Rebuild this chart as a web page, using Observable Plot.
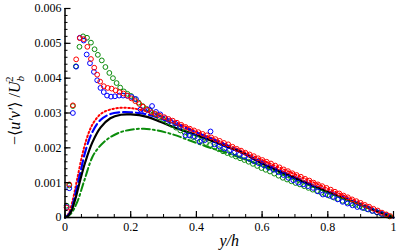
<!DOCTYPE html>
<html>
<head>
<meta charset="utf-8">
<script src="https://cdn.jsdelivr.net/npm/d3@7"></script>
<script src="https://cdn.jsdelivr.net/npm/@observablehq/plot@0.6"></script>
<style>
  html, body { margin: 0; padding: 0; background: #fff; }
  svg { display: block; }
</style>
</head>
<body>
<script>
// ---- tick labels ----
const xTicks = [0, 0.2, 0.4, 0.6, 0.8, 1];
const yTicks = [0, 0.001, 0.002, 0.003, 0.004, 0.005, 0.006];

// ---- symbol series (x = y/h, v = -<u'v'>/Ub^2) ----
const redX = [0.005,0.013,0.024,0.034,0.045,0.057,0.068,0.079,0.089,0.098,0.107,0.118,0.13,0.142,0.154,0.166,0.178,0.19,0.202,0.214,0.226,0.238,0.25,0.263,0.276,0.289,0.302,0.315,0.328,0.341,0.354,0.367,0.38,0.393,0.406,0.419,0.432,0.445,0.458,0.471,0.484,0.497,0.51,0.523,0.536,0.549,0.562,0.575,0.588,0.601,0.614,0.627,0.64,0.653,0.666,0.679,0.692,0.705,0.718,0.731,0.744,0.757,0.77,0.783,0.796,0.809,0.822,0.835,0.848,0.861,0.874,0.887,0.9,0.913,0.926,0.939,0.952,0.965,0.978,0.99];
const redV = [0.00028,0.00095,0.00322,0.00454,0.00515,0.00512,0.0049,0.00455,0.0043,0.0041,0.0039,0.00377,0.00372,0.0037,0.00365,0.0036,0.00356,0.0035,0.00342,0.00334,0.00326,0.00318,0.00309,0.00302,0.00297,0.00292,0.00288,0.00283,0.00278,0.00272,0.00266,0.0026,0.00255,0.0025,0.00245,0.0024,0.00236,0.0023,0.00225,0.0022,0.00214,0.0021,0.00203,0.00197,0.00192,0.00186,0.00181,0.00176,0.0017,0.00165,0.0016,0.00155,0.00149,0.00144,0.00138,0.00133,0.00127,0.00122,0.00117,0.00111,0.00106,0.001,0.00095,0.0009,0.00085,0.0008,0.00074,0.00069,0.00063,0.00058,0.00052,0.00047,0.00042,0.00036,0.00031,0.00025,0.0002,0.00014,0.00009,0.00004];

const blueX = [0.005,0.013,0.024,0.034,0.045,0.057,0.066,0.076,0.088,0.098,0.108,0.118,0.128,0.14,0.152,0.165,0.177,0.19,0.203,0.216,0.23,0.243,0.256,0.265,0.277,0.29,0.305,0.32,0.335,0.35,0.367,0.38,0.395,0.41,0.425,0.443,0.455,0.47,0.485,0.5,0.515,0.53,0.545,0.56,0.575,0.59,0.605,0.62,0.635,0.65,0.665,0.68,0.695,0.71,0.725,0.74,0.755,0.77,0.785,0.8,0.815,0.83,0.845,0.86,0.875,0.89,0.905,0.92,0.935,0.95,0.965,0.98];
const blueV = [0.0003,0.00084,0.003,0.00433,0.00516,0.00508,0.00468,0.00443,0.00418,0.00394,0.00372,0.0036,0.0035,0.00347,0.00348,0.0035,0.0035,0.00349,0.00346,0.0034,0.0031,0.00305,0.0031,0.0032,0.00303,0.00296,0.00285,0.00277,0.0027,0.0026,0.00236,0.00235,0.00232,0.00218,0.00222,0.00247,0.0021,0.00204,0.00198,0.00192,0.00186,0.0018,0.00175,0.00169,0.00162,0.00156,0.0015,0.00143,0.00137,0.0013,0.00122,0.00114,0.00107,0.001,0.00095,0.0009,0.00085,0.00075,0.00066,0.00064,0.00059,0.00052,0.00045,0.0004,0.00035,0.0003,0.00028,0.00024,0.00019,0.00015,0.0001,0.00006];

const greenX = [0.005,0.013,0.024,0.033,0.044,0.055,0.067,0.079,0.09,0.1,0.112,0.123,0.135,0.146,0.157,0.168,0.179,0.19,0.201,0.212,0.224,0.236,0.248,0.26,0.273,0.286,0.299,0.312,0.325,0.338,0.351,0.364,0.377,0.39,0.403,0.416,0.429,0.442,0.455,0.468,0.481,0.494,0.507,0.52,0.533,0.546,0.559,0.572,0.585,0.598,0.611,0.624,0.637,0.65,0.663,0.676,0.689,0.702,0.715,0.728,0.741,0.754,0.767,0.78,0.793,0.806,0.819,0.832,0.845,0.858,0.871,0.884,0.897,0.91,0.923,0.936,0.949,0.962,0.975,0.988];
const greenV = [0.00034,0.00092,0.0032,0.00434,0.0049,0.0052,0.00516,0.00502,0.00483,0.00467,0.00451,0.00432,0.00415,0.004,0.00386,0.00373,0.00362,0.00355,0.00349,0.0034,0.0033,0.0032,0.00312,0.00306,0.00297,0.00288,0.00281,0.00273,0.00266,0.00258,0.0025,0.00244,0.00237,0.00231,0.00226,0.0022,0.00214,0.00208,0.00202,0.00196,0.0019,0.00185,0.0018,0.00175,0.0017,0.00165,0.0016,0.00154,0.00148,0.00142,0.00137,0.00132,0.00126,0.0012,0.00114,0.00109,0.00104,0.00099,0.00095,0.0009,0.00085,0.0008,0.00076,0.00071,0.00067,0.00062,0.00057,0.00053,0.00048,0.00044,0.0004,0.00036,0.00032,0.00027,0.00023,0.00019,0.00015,0.00011,0.00007,0.00003];

// ---- model curves ----
const blackX = [0,0.01,0.02,0.032,0.047,0.062,0.083,0.108,0.138,0.17,0.2,0.25,0.29,0.33,0.38,0.433,0.5,0.534,0.6,0.7,0.8,0.9,0.95,1];
const blackV = [0,0.00005,0.0002,0.00055,0.0011,0.0016,0.00215,0.00258,0.00285,0.00295,0.00296,0.00289,0.00275,0.0026,0.00243,0.00225,0.002,0.00188,0.00155,0.00113,0.00073,0.00036,0.00018,0];

const blueLX = [0,0.01,0.02,0.032,0.047,0.062,0.083,0.108,0.138,0.17,0.2,0.25,0.3,0.35,0.4,0.5,0.6,0.7,0.8,0.9,0.95,1];
const blueLV = [0,0.00007,0.00025,0.0007,0.0013,0.0019,0.00245,0.0028,0.00297,0.00302,0.00302,0.00296,0.00281,0.00263,0.00244,0.00204,0.00159,0.00116,0.00076,0.00038,0.00019,0];

const redLX = [0,0.01,0.022,0.037,0.057,0.075,0.088,0.11,0.138,0.17,0.2,0.24,0.3,0.4,0.5,0.6,0.7,0.8,0.9,0.95,1];
const redLV = [0,0.0001,0.00044,0.0011,0.00197,0.0025,0.00274,0.00298,0.0031,0.00315,0.00314,0.00307,0.00289,0.00247,0.00207,0.00165,0.00124,0.00083,0.00042,0.00021,0];

const greenLX = [0,0.017,0.037,0.057,0.083,0.1,0.118,0.14,0.169,0.2,0.24,0.28,0.33,0.38,0.43,0.5,0.6,0.7,0.8,0.9,0.95,1];
const greenLV = [0,0.0001,0.00044,0.00101,0.00173,0.00198,0.00216,0.00232,0.00245,0.00252,0.00255,0.0025,0.00238,0.00221,0.00204,0.00183,0.00148,0.0011,0.00072,0.00035,0.00017,0];

const RED = "#ff0000", BLUE = "#0000ff", GREEN = "#0b8c0b";
const SERIF = "'Liberation Serif', 'DejaVu Serif', 'Noto Serif', serif";

const zip = (xs, vs) => xs.map((x, i) => ({x, v: vs[i]}));

const W = 407, H = 252;
const mL = 64.5, mR = 14, mT = 8, mB = 35;
const plotW = W - mL - mR, plotH = H - mT - mB;

const yMinor = d3.range(0, 0.00601, 0.0002);
const xMinor = d3.range(0, 1.001, 0.05);

const dotOpts = (color) => ({x: "x", y: "v", r: 2.4, stroke: color, fill: "none", strokeWidth: 1});

const svg = Plot.plot({
  width: W, height: H,
  marginLeft: mL, marginRight: mR, marginTop: mT, marginBottom: mB,
  style: {fontSize: "12px", fontFamily: SERIF, background: "white", color: "black"},
  x: {domain: [0, 1]},
  y: {domain: [0, 0.006]},
  marks: [
    Plot.line(zip(greenLX, greenLV), {x: "x", y: "v", stroke: GREEN, strokeWidth: 2, strokeDasharray: "8,3,2,3", curve: "catmull-rom"}),
    Plot.line(zip(redLX, redLV), {x: "x", y: "v", stroke: RED, strokeWidth: 2, strokeDasharray: "1.5,2.5", curve: "catmull-rom"}),
    Plot.line(zip(blueLX, blueLV), {x: "x", y: "v", stroke: BLUE, strokeWidth: 2.2, strokeDasharray: "9,4", curve: "catmull-rom"}),
    Plot.line(zip(blackX, blackV), {x: "x", y: "v", stroke: "black", strokeWidth: 2.2, curve: "catmull-rom"}),
    Plot.dot(zip(greenX, greenV), dotOpts(GREEN)),
    Plot.dot(zip(blueX, blueV), dotOpts(BLUE)),
    Plot.dot(zip(redX, redV), dotOpts(RED)),
    Plot.tickY(yMinor, {y: d => d, insetRight: plotW - 3, strokeWidth: 1}),
    Plot.tickY(yTicks, {y: d => d, insetRight: plotW - 6, strokeWidth: 1.2}),
    Plot.tickX(xMinor, {x: d => d, insetTop: plotH - 3, strokeWidth: 1}),
    Plot.tickX(xTicks, {x: d => d, insetTop: plotH - 6, strokeWidth: 1.2}),
    Plot.ruleX([0], {strokeWidth: 1.5}),
    Plot.ruleY([0], {strokeWidth: 1.5}),
    Plot.axisY(yTicks, {tickSize: 0, tickPadding: 3.5, tickFormat: d => d === 0 ? "0" : d3.format(".3f")(d), label: null}),
    Plot.axisX(xTicks, {tickSize: 0, tickPadding: 5, tickFormat: d => String(d), label: null}),
    Plot.text(["y/h"], {frameAnchor: "bottom", dy: 28, fontStyle: "italic", fontSize: 16})
  ]
});

// y-axis label with sub/superscript
const lab = d3.select(svg).append("text")
  .attr("transform", `translate(20,${mT + plotH / 2 - 2}) rotate(-90)`)
  .attr("text-anchor", "middle")
  .attr("font-size", 16)
  .attr("fill", "black");
lab.append("tspan").text("−⟨");
lab.append("tspan").attr("font-style", "italic").text("u′v′");
lab.append("tspan").text("⟩ /");
lab.append("tspan").attr("font-style", "italic").text("U");
lab.append("tspan").attr("font-style", "italic").attr("font-size", 11).attr("dy", 4).text("b");
lab.append("tspan").attr("font-size", 11).attr("dx", -6).attr("dy", -11).text("2");

d3.select(svg).selectAll("text").attr("font-family", SERIF).style("font-family", SERIF);

document.body.appendChild(svg);
</script>
</body>
</html>
